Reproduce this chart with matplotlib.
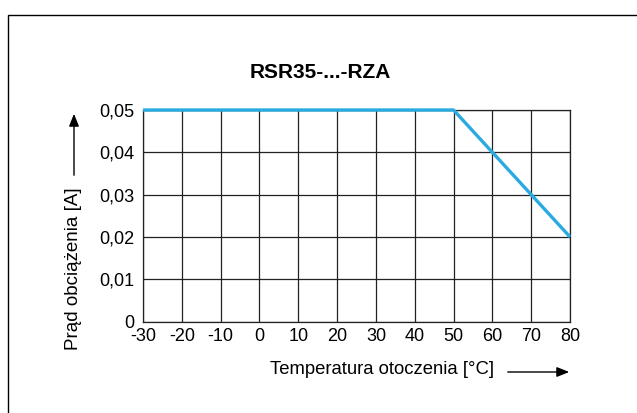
import matplotlib.pyplot as plt
from matplotlib.patches import Rectangle, FancyArrowPatch

plt.rcParams['font.family'] = ['Liberation Sans', 'DejaVu Sans']
plt.rcParams['axes.unicode_minus'] = False

temp = [-30, 50, 80]
current = [0.05, 0.05, 0.02]
xticks = list(range(-30, 81, 10))
yticks = [0, 0.01, 0.02, 0.03, 0.04, 0.05]
ylabels = ["0", "0,01", "0,02", "0,03", "0,04", "0,05"]

W, H = 637, 413
fig = plt.figure(figsize=(W / 100, H / 100), dpi=100)

# outer frame (only left and top edges visible)
fig.patches.append(Rectangle((8 / W, -0.1), 1.2, 1 - 15 / H + 0.1, transform=fig.transFigure,
                             fill=False, edgecolor="black", linewidth=1.0))

ax = fig.add_axes([143 / W, 1 - 321.5 / H, (570 - 143) / W, (321.5 - 110) / H])
ax.set_xlim(-30, 80)
ax.set_ylim(0, 0.05)
ax.set_xticks(xticks)
ax.set_xticklabels([str(t) for t in xticks])
ax.set_yticks(yticks)
ax.set_yticklabels(ylabels)
ax.grid(True, color="#222222", linewidth=0.9)
ax.tick_params(length=0, labelsize=13, colors="black")
ax.tick_params(axis="x", pad=5)
ax.tick_params(axis="y", pad=6)
for s in ax.spines.values():
    s.set_color("#222222")
    s.set_linewidth(0.9)
# lift the "0" label a little so it clears "-30", as in the original
ax.get_yticklabels()[0].set_y(0.0009)

ax.plot(temp, current, color="#29abe2", linewidth=2.4, solid_capstyle="butt", clip_on=False, zorder=5)

fig.text(320 / W, 1 - 72 / H, "RSR35-...-RZA", ha="center", va="center", fontsize=15, fontweight="bold")

fig.text(73 / W, 1 - 269 / H, "Prąd obciążenia [A]", rotation=90, ha="center", va="center", fontsize=13.5)
fig.text(382 / W, 1 - 370 / H, "Temperatura otoczenia [°C]", ha="center", va="center", fontsize=13.3)

fig.add_artist(FancyArrowPatch(
    (74 / W, 1 - 178 / H), (74 / W, 1 - 111 / H), transform=fig.transFigure,
    arrowstyle="-|>,head_length=5,head_width=2", color="black", linewidth=1, mutation_scale=1.5))
fig.add_artist(FancyArrowPatch(
    (505 / W, 1 - 372 / H), (572 / W, 1 - 372 / H), transform=fig.transFigure,
    arrowstyle="-|>,head_length=5,head_width=2", color="black", linewidth=1, mutation_scale=1.5))

fig.savefig("out.png", dpi=100)
